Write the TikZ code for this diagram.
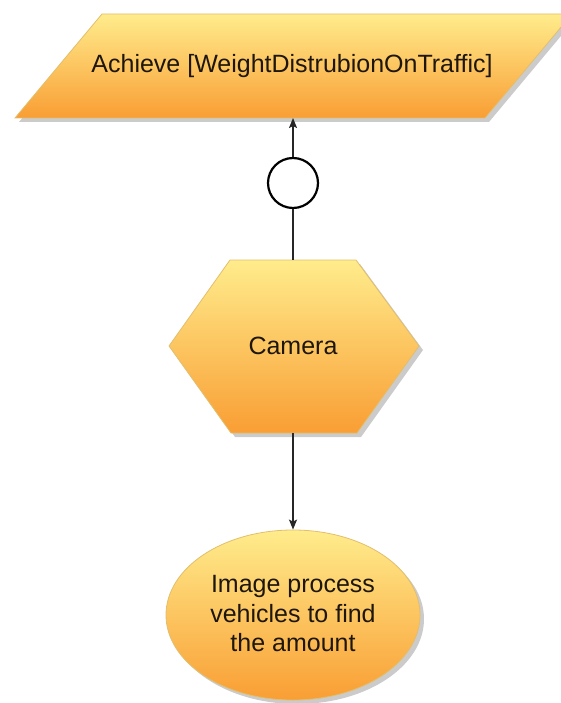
\documentclass[tikz,border=0pt]{standalone}
\usepackage{fontspec}
\setmainfont{Liberation Sans}
\usetikzlibrary{shadows,arrows.meta,shapes.geometric}

\definecolor{shTop}{RGB}{255,236,140}
\definecolor{shBot}{RGB}{249,158,52}
\definecolor{shEdge}{RGB}{226,190,110}
\definecolor{txt}{RGB}{30,22,10}

\tikzset{
  shapefill/.style={top color=shTop, bottom color=shBot, draw=shEdge, line width=0.8pt,
    drop shadow={shadow xshift=4pt, shadow yshift=-4pt, fill=black!45, opacity=0.45}},
  caption/.style={font=\fontsize{25}{29.5}\selectfont, text=txt, align=center, inner sep=0pt},
  link/.style={line width=1.5pt, draw=black!85},
  tip/.style={-{Stealth[length=10pt,width=8pt,inset=2pt]}},
}

\begin{document}
\begin{tikzpicture}[x=1pt,y=-1pt]
  \clip (0,0) rectangle (561,703);
  \useasboundingbox (0,0) rectangle (561,703);

  % goal parallelogram
  \path[shapefill] (102,14) -- (572,14) -- (485,118) -- (15,118) -- cycle;
  \node[caption] (goal) at (292,66) {Achieve [WeightDistrubionOnTraffic]};
  \coordinate (goalBot) at (293,118);

  % operationalisation circle
  \node[draw=black, line width=2.2pt, circle, minimum size=50pt, inner sep=0pt, fill=white] (opcircle) at (293,183) {};

  % agent hexagon
  \path[shapefill] (230,260) -- (356,260) -- (419,346) -- (357,433) -- (231,433) -- (169,346) -- cycle;
  \node[caption] (camera) at (293,346) {Camera};
  \coordinate (camTop) at (293,260);
  \coordinate (camBot) at (293,433);

  % operation ellipse
  \node[shapefill, ellipse, minimum width=254pt, minimum height=170pt, inner sep=0pt] (result) at (293,615) {};
  \node[caption] (resultText) at (293,614) {Image process\\vehicles to find\\the amount};

  % connectors
  \draw[link,tip] (opcircle.north) -- (goalBot);
  \draw[link] (opcircle.south) -- (camTop);
  \draw[link,tip] (camBot) -- (result.north);
\end{tikzpicture}
\end{document}
